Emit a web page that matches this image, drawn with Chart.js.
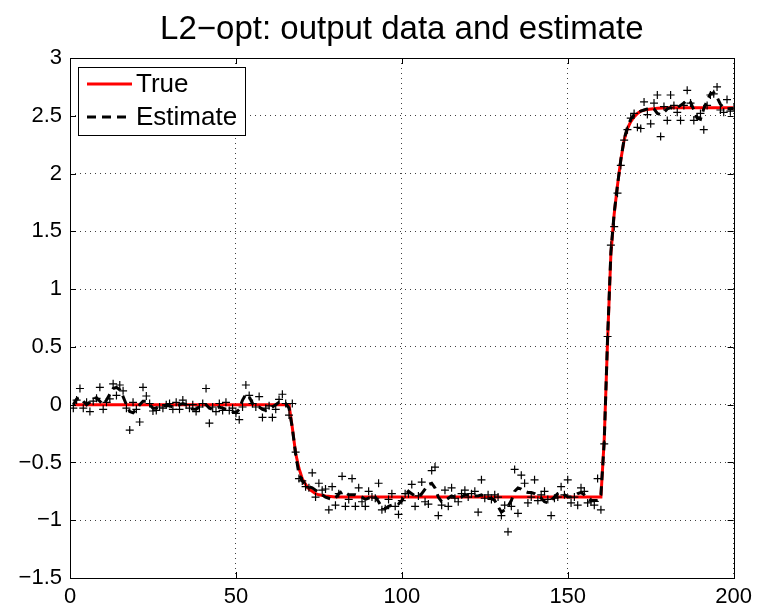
<!DOCTYPE html>
<html>
<head>
<meta charset="utf-8">
<script src="https://cdn.jsdelivr.net/npm/chart.js@4.4.0/dist/chart.umd.min.js"></script>
<style>
  html, body { margin: 0; padding: 0; background: #fff; }
  #wrap { width: 758px; height: 608px; }
</style>
</head>
<body>
<div id="wrap"><canvas id="chartL2" width="758" height="608"></canvas></div>
<script>
// true output: key points (sample, value)
const trueX = [1, 66, 67, 68, 69, 70, 71, 72, 73, 74, 75, 77, 80, 85, 160, 161, 162, 163, 164, 165, 166, 167, 168, 169, 170, 171, 172, 174, 177, 180, 200];
const trueY = [0, 0, -0.2, -0.42, -0.55, -0.64, -0.69, -0.73, -0.75, -0.77, -0.78, -0.79, -0.8, -0.8, -0.8, -0.3, 0.55, 1.3, 1.65, 1.9, 2.12, 2.29, 2.39, 2.45, 2.49, 2.52, 2.54, 2.555, 2.565, 2.57, 2.57];

// measured output data, samples 1..200
const measured = [
  -0.03, 0.04, 0.14, -0.03, 0.02, -0.06, 0.03, 0.055, 0.15, -0.04,
  0.02, 0.05, 0.18, 0.08, 0.17, 0.12, -0.03, -0.22, 0.02, -0.04,
  -0.15, 0.15, 0.075, 0.01, -0.055, -0.05, -0.02, -0.03, 0.0, 0.01,
  -0.04, 0.02, -0.04, 0.04, 0.0, -0.03, 0.0, -0.06, -0.02, 0.01,
  0.14, -0.16, -0.02, -0.06, 0.01, -0.05, 0.02, -0.05, -0.03, -0.075,
  -0.13, -0.02, 0.17, 0.08, 0.01, -0.02, 0.07, -0.11, -0.03, -0.01,
  -0.11, -0.04, 0.045, 0.09, 0.01, -0.09, 0.01, -0.41, -0.64, -0.66,
  -0.71, -0.72, -0.59, -0.8, -0.68, -0.74, -0.73, -0.91, -0.71, -0.87,
  -0.77, -0.62, -0.88, -0.82, -0.64, -0.88, -0.72, -0.84, -0.88, -0.75,
  -0.8, -0.81, -0.68, -0.91, -0.9, -0.82, -0.77, -0.88, -0.95, -0.83,
  -0.77, -0.77, -0.69, -0.88, -0.79, -0.67, -0.84, -0.86, -0.57, -0.54,
  -0.96, -0.87, -0.74, -0.88, -0.72, -0.81, -0.84, -0.77, -0.74, -0.8,
  -0.77, -0.75, -0.93, -0.65, -0.81, -0.78, -0.82, -0.78, -0.8, -0.96,
  -0.87, -1.1, -0.88, -0.56, -0.94, -0.61, -0.68, -0.85, -0.8, -0.65,
  -0.83, -0.78, -0.75, -0.82, -0.96, -0.81, -0.8, -0.71, -0.78, -0.65,
  -0.85, -0.8, -0.87, -0.72, -0.75, -0.85, -0.84, -0.87, -0.64, -0.91,
  -0.34, 0.59, 1.38, 1.54, 1.83, 2.07, 2.29, 2.38, 2.48, 2.52,
  2.4, 2.39, 2.62, 2.51, 2.43, 2.61, 2.68, 2.32, 2.58, 2.46,
  2.68, 2.59, 2.53, 2.46, 2.59, 2.72, 2.61, 2.46, 2.49, 2.52,
  2.38, 2.59, 2.68, 2.69, 2.75, 2.55, 2.53, 2.64, 2.54, 2.57
];

// L2-opt estimate, samples 1..200
const estimate = [
  0.0, 0.05, 0.06, 0.03, 0.0, 0.02, 0.05, 0.06, 0.03, 0.0,
  0.04, 0.09, 0.14, 0.15, 0.13, 0.07, 0.0, -0.06, -0.07, -0.04,
  0.0, 0.03, 0.03, 0.0, -0.03, -0.03, -0.02, -0.01, -0.01, -0.01,
  -0.02, -0.01, 0.0, 0.01, 0.0, -0.02, -0.04, -0.04, -0.02, 0.0,
  0.0, -0.03, -0.04, -0.03, -0.02, -0.03, -0.04, -0.05, -0.06, -0.07,
  -0.04, 0.04, 0.09, 0.07, 0.01, -0.02, -0.02, -0.04, -0.05, -0.04,
  -0.02, 0.0, 0.02, 0.02, 0.01, -0.03, -0.2, -0.43, -0.6, -0.66,
  -0.69, -0.71, -0.72, -0.74, -0.76, -0.78, -0.8, -0.81, -0.82, -0.81,
  -0.77, -0.75, -0.76, -0.78, -0.78, -0.78, -0.79, -0.8, -0.82, -0.81,
  -0.79, -0.8, -0.84, -0.89, -0.9, -0.88, -0.87, -0.87, -0.86, -0.83,
  -0.78, -0.75, -0.77, -0.79, -0.79, -0.77, -0.73, -0.69, -0.68, -0.72,
  -0.8, -0.84, -0.83, -0.81, -0.79, -0.8, -0.81, -0.8, -0.78, -0.78,
  -0.78, -0.79, -0.79, -0.78, -0.8, -0.81, -0.81, -0.83, -0.88, -0.93,
  -0.91, -0.88, -0.83, -0.75, -0.72, -0.73, -0.75, -0.76, -0.76, -0.77,
  -0.79, -0.81, -0.84, -0.85, -0.83, -0.8, -0.77, -0.76, -0.78, -0.8,
  -0.8, -0.79, -0.77, -0.76, -0.78, -0.81, -0.83, -0.83, -0.83, -0.78,
  -0.32, 0.57, 1.32, 1.66, 1.9, 2.12, 2.3, 2.4, 2.47, 2.51,
  2.53, 2.54, 2.55, 2.56, 2.57, 2.56, 2.52, 2.51, 2.53, 2.56,
  2.57, 2.56, 2.57, 2.59, 2.61, 2.64, 2.62, 2.55, 2.48, 2.47,
  2.56, 2.63, 2.69, 2.7, 2.66, 2.6, 2.57, 2.56, 2.56, 2.56
];

const xTicks = [0, 50, 100, 150, 200];
const yTicks = [-1.5, -1, -0.5, 0, 0.5, 1, 1.5, 2, 2.5, 3];
const yTickLabels = ['\u22121.5', '\u22121', '\u22120.5', '0', '0.5', '1', '1.5', '2', '2.5', '3'];

const FONT = 'Liberation Sans, Arial, Helvetica, sans-serif';

// box, inward tick marks and the legend, the way matlab draws them
const matlabFrame = {
  id: 'matlabFrame',
  afterDraw(chart) {
    const ctx = chart.ctx;
    const a = chart.chartArea;
    const xs = chart.scales.x, ys = chart.scales.y;
    ctx.save();
    ctx.strokeStyle = '#000';
    ctx.lineWidth = 1;
    ctx.beginPath();
    xTicks.forEach(v => {
      const px = Math.round(xs.getPixelForValue(v)) + 0.5;
      ctx.moveTo(px, a.bottom); ctx.lineTo(px, a.bottom - 6);
      ctx.moveTo(px, a.top); ctx.lineTo(px, a.top + 6);
    });
    yTicks.forEach(v => {
      const py = Math.round(ys.getPixelForValue(v)) + 0.5;
      ctx.moveTo(a.left, py); ctx.lineTo(a.left + 6, py);
      ctx.moveTo(a.right, py); ctx.lineTo(a.right - 6, py);
    });
    ctx.stroke();
    ctx.strokeRect(Math.round(a.left) + 0.5, Math.round(a.top) + 0.5,
      Math.round(a.right - a.left), Math.round(a.bottom - a.top));

    // legend
    const lx = a.left + 8, ly = a.top + 9, lw = 167, lh = 68;
    ctx.fillStyle = '#fff';
    ctx.fillRect(lx, ly, lw, lh);
    ctx.strokeRect(Math.round(lx) + 0.5, Math.round(ly) + 0.5, lw, lh);
    const items = [chart.data.datasets[0], chart.data.datasets[1]];
    items.forEach((ds, i) => {
      const y = ly + 17 + i * 33;
      ctx.beginPath();
      ctx.strokeStyle = ds.borderColor;
      ctx.lineWidth = ds.borderWidth;
      ctx.setLineDash(ds.borderDash || []);
      ctx.moveTo(lx + 9, y);
      ctx.lineTo(lx + 54, y);
      ctx.stroke();
      ctx.setLineDash([]);
      ctx.fillStyle = '#000';
      ctx.font = '26px ' + FONT;
      ctx.textBaseline = 'middle';
      ctx.textAlign = 'left';
      ctx.fillText(ds.label, lx + 58, y + 1);
    });
    ctx.restore();
  }
};

const ctx = document.getElementById('chartL2').getContext('2d');
new Chart(ctx, {
  type: 'line',
  data: {
    datasets: [
      {
        label: 'True',
        data: trueX.map((x, i) => ({ x: x, y: trueY[i] })),
        borderColor: 'rgb(255,0,0)',
        borderWidth: 3,
        pointRadius: 0,
        tension: 0,
        order: 3
      },
      {
        label: 'Estimate',
        data: estimate.map((v, i) => ({ x: i + 1, y: v })),
        borderColor: '#000',
        borderWidth: 3,
        borderDash: [9, 6],
        pointRadius: 0,
        tension: 0,
        order: 1
      },
      {
        label: 'Data',
        data: measured.map((v, i) => ({ x: i + 1, y: v })),
        showLine: false,
        pointStyle: 'cross',
        pointRadius: 4,
        borderColor: '#000',
        borderWidth: 1.2,
        order: 2
      }
    ]
  },
  options: {
    responsive: false,
    animation: false,
    devicePixelRatio: 1,
    layout: { padding: { top: 0, right: 23, left: 0, bottom: 0 } },
    plugins: {
      legend: { display: false },
      tooltip: { enabled: false },
      title: {
        display: true,
        fullSize: false,
        text: 'L2\u2212opt: output data and estimate',
        color: '#000',
        font: { family: FONT, size: 33, weight: 'normal', lineHeight: 1.2 },
        padding: { top: 10, bottom: 8.4 }
      }
    },
    scales: {
      x: {
        type: 'linear',
        min: 0, max: 200,
        afterBuildTicks: s => { s.ticks = xTicks.map(v => ({ value: v })); },
        afterFit: s => { s.height = 30; },
        ticks: { color: '#000', font: { family: FONT, size: 22 }, padding: 6, maxRotation: 0 },
        grid: { color: 'rgba(0,0,0,0.75)', drawTicks: false },
        border: { display: false, dash: [1, 4] }
      },
      y: {
        type: 'linear',
        min: -1.5, max: 3,
        afterBuildTicks: s => { s.ticks = yTicks.map(v => ({ value: v })); },
        afterFit: s => { s.width = 70; },
        ticks: {
          color: '#000', font: { family: FONT, size: 22 }, padding: 8,
          callback: v => yTickLabels[yTicks.indexOf(v)]
        },
        grid: { color: 'rgba(0,0,0,0.75)', drawTicks: false },
        border: { display: false, dash: [1, 4] }
      }
    }
  },
  plugins: [matlabFrame]
});
</script>
</body>
</html>
